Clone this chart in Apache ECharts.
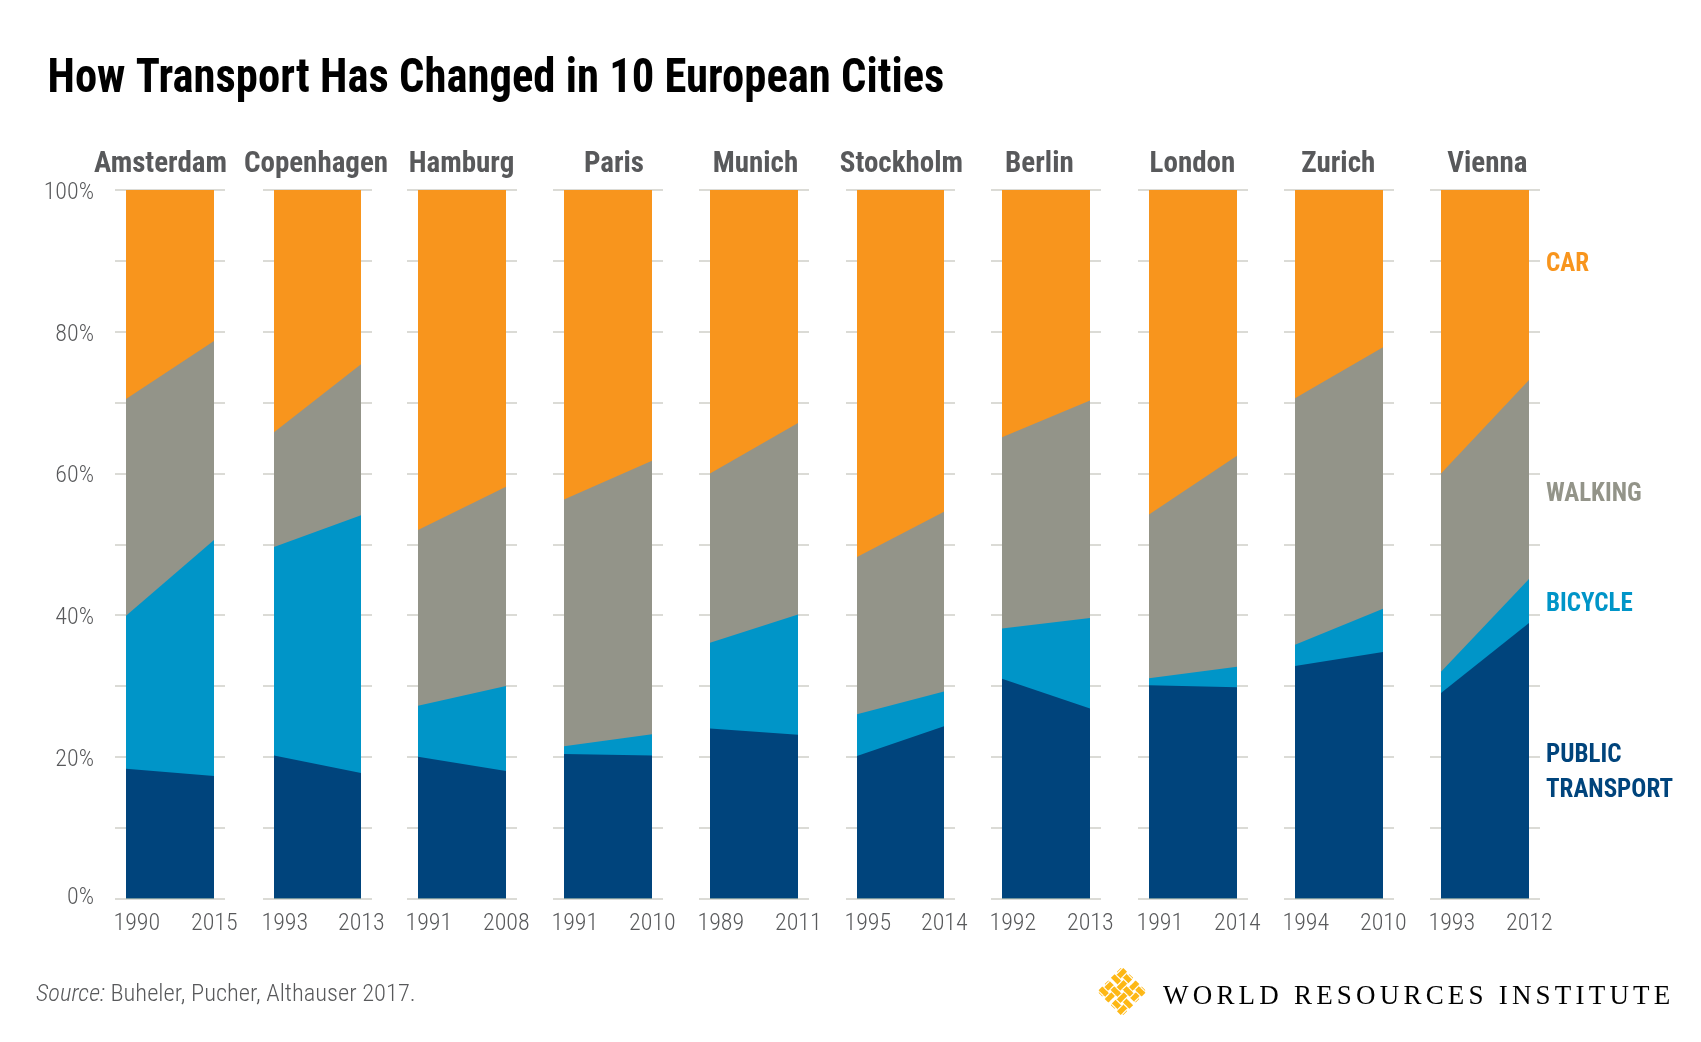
<!DOCTYPE html>
<html>
<head>
<meta charset="utf-8">
<title>How Transport Has Changed in 10 European Cities</title>
<script src="https://cdn.jsdelivr.net/npm/echarts@6/dist/echarts.min.js"></script>
<style>
  html, body { margin: 0; padding: 0; background: #fff; }
  #chart { width: 1701px; height: 1042px; }
  #wri { position: absolute; left: 1163px; top: 980px; font: 27px "Liberation Serif"; letter-spacing: 4.2px; color: #000; white-space: nowrap; }
</style>
</head>
<body>
<div id="chart"></div>
<div id="wri">WORLD RESOURCES INSTITUTE</div>
<script>
var cities = ['Amsterdam', 'Copenhagen', 'Hamburg', 'Paris', 'Munich', 'Stockholm', 'Berlin', 'London', 'Zurich', 'Vienna'];
var years = [[1990, 2015], [1993, 2013], [1991, 2008], [1991, 2010], [1989, 2011], [1995, 2014], [1992, 2013], [1991, 2014], [1994, 2010], [1993, 2012]];
var publicTransport = [[18.3, 17.3], [20.2, 17.7], [20, 18], [20.4, 20.2], [24, 23.1], [20.1, 24.3], [31, 26.8], [30.1, 29.8], [32.8, 34.8], [29, 38.9]];
var bicycle = [[21.6, 33.3], [29.4, 36.4], [7.2, 12], [1.1, 3], [12.1, 17], [5.9, 4.9], [7.1, 12.8], [1, 2.9], [3, 6.1], [3, 6.2]];
var walking = [[30.6, 28.1], [16.2, 21.3], [24.8, 28.1], [34.8, 38.6], [23.9, 27], [22.2, 25.4], [27, 30.7], [23.1, 29.8], [34.8, 36.9], [28, 28.1]];
var car = [[29.5, 21.3], [34.2, 24.6], [48, 41.9], [43.7, 38.2], [40, 32.9], [51.8, 45.4], [34.9, 29.7], [45.8, 37.5], [29.4, 22.2], [40, 26.8]];
var yTicks = [0, 20, 40, 60, 80, 100];

// layout in px, whole numbers so the overpainted bands leave no fringe
var barLeft = [126, 274, 418, 564, 710, 857, 1002, 1149, 1295, 1441];
var barWidth = [88, 87, 88, 88, 88, 87, 88, 88, 88, 88];
var tickPad = 11;
var cityCenter = [155.5, 311, 456.5, 609, 750.5, 896.4, 1034.4, 1187.4, 1333.3, 1482.3];
var plotTop = 190, plotBottom = 898.5;

// bottom of the stack first, so each band can be summed onto the one below
var modes = [
  { name: 'Public transport', values: publicTransport, color: '#00447c' },
  { name: 'Bicycle', values: bicycle, color: '#0095c8' },
  { name: 'Walking', values: walking, color: '#939489' },
  { name: 'Car', values: car, color: '#f8951d' }
];

var narrow = '"Roboto Condensed", sans-serif';
var light = '"Roboto Condensed Light", "Roboto Condensed", sans-serif';
var grey = '#58595b';

var grids = [], xAxes = [], yAxes = [], series = [], titles = [];

cities.forEach(function (city, i) {
  var y0 = years[i][0], y1 = years[i][1];
  var pad = (y1 - y0) * tickPad / barWidth[i];
  grids.push({
    left: barLeft[i] - tickPad,
    width: barWidth[i] + tickPad * 2,
    top: plotTop,
    height: plotBottom - plotTop
  });
  xAxes.push({
    type: 'value',
    gridIndex: i,
    min: y0 - pad,
    max: y1 + pad,
    splitLine: { show: false },
    axisLine: { show: false },
    axisTick: { show: false },
    axisLabel: {
      customValues: [y0, y1],
      margin: 12,
      formatter: function (v) { return v === y0 ? '{a|' + v + '}' : '{b|' + v + '}'; },
      rich: {
        a: { width: 46, align: 'left', padding: [0, 0, 0, 21], fontFamily: light, fontSize: 24, color: grey },
        b: { width: 46, align: 'left', fontFamily: light, fontSize: 24, color: grey }
      }
    }
  });
  yAxes.push({
    type: 'value',
    gridIndex: i,
    min: 0,
    max: 100,
    interval: 10,
    axisLine: { show: false },
    axisTick: { show: false },
    splitLine: { show: true, lineStyle: { color: '#cfcfc9', width: 1.5 } },
    axisLabel: {
      show: i === 0,
      margin: 21,
      formatter: function (v) {
        if (yTicks.indexOf(v) < 0) return '';
        return (v === 0 ? '{z|' : '{n|') + v + '%}';
      },
      rich: {
        n: { padding: [4, 0, 0, 0], fontFamily: light, fontSize: 24, color: grey },
        z: { padding: [0, 0, 4, 0], fontFamily: light, fontSize: 24, color: grey }
      }
    }
  });
  // cumulative tops; painted from the tallest band down
  var running = [0, 0], bands = [];
  modes.forEach(function (m) {
    running = [running[0] + m.values[i][0], running[1] + m.values[i][1]];
    bands.push({ m: m, top: running });
  });
  bands.reverse().forEach(function (b) {
    series.push({
      name: b.m.name,
      type: 'line',
      xAxisIndex: i,
      yAxisIndex: i,
      symbol: 'none',
      silent: true,
      animation: false,
      lineStyle: { width: 0 },
      areaStyle: { color: b.m.color, opacity: 1 },
      data: [[y0, b.top[0]], [y1, b.top[1]]]
    });
  });
  titles.push({
    text: city,
    left: cityCenter[i],
    top: 145,
    textAlign: 'center',
    textStyle: { fontFamily: narrow, fontSize: 29, fontWeight: 'bold', color: grey }
  });
});

var graphic = [{
  type: 'text', x: 47.5, y: 55.5, scaleX: 0.93,
  style: { text: 'How Transport Has Changed in 10 European Cities', fill: '#000', font: 'bold 48px ' + narrow }
}];

// mode labels on the right
var sideLabels = [
  { text: 'CAR', y: 264, color: '#f8951d' },
  { text: 'WALKING', y: 494, color: '#939489' },
  { text: 'BICYCLE', y: 604, color: '#0095c8' },
  { text: 'PUBLIC\nTRANSPORT', y: 773, color: '#00447c' }
];
sideLabels.forEach(function (l) {
  graphic.push({
    type: 'text', left: 1546, top: l.y - (l.text.indexOf('\n') > 0 ? 35 : 17),
    style: { text: l.text, fill: l.color, font: 'bold 25px ' + narrow, lineHeight: 35 }
  });
});
graphic.push({
  type: 'text', left: 36, top: 981.5,
  style: {
    text: '{i|Source:} Buheler, Pucher, Althauser 2017.',
    fill: grey, font: '24.5px ' + light,
    rich: { i: { font: 'italic 24.5px ' + light, fill: grey } }
  }
});

// WRI mark: woven diamond
var gold = '#fdb714', w = 5.2, half = 17.5, lanes = [-13, -4.4, 4.4, 13], weave = [];
function box(x, y, bw, bh, fill) {
  return { type: 'rect', shape: { x: x, y: y, width: bw, height: bh }, style: { fill: fill } };
}
lanes.forEach(function (p, a) {
  var outer = a === 0 || a === 3;
  if (outer) {
    weave.push(box(-half, p - w / 2, half - 2, w, gold), box(2, p - w / 2, half - 2, w, gold));
    weave.push(box(p - w / 2, -half, w, half - 2, gold), box(p - w / 2, 2, w, half - 2, gold));
  } else {
    weave.push(box(-half, p - w / 2, half * 2, w, gold), box(p - w / 2, -half, w, half * 2, gold));
  }
});
lanes.forEach(function (p, a) {
  lanes.forEach(function (q, b) {
    if ((a + b) % 2) {
      weave.push(box(p - w / 2, q - w / 2 - 1.2, w, w + 2.4, '#fff'), box(p - w / 2 - 0.5, q - w / 2, w + 1, w, gold));
    } else {
      weave.push(box(p - w / 2 - 1.2, q - w / 2, w + 2.4, w, '#fff'), box(p - w / 2, q - w / 2 - 0.5, w, w + 1, gold));
    }
  });
});
graphic.push({ type: 'group', x: 1122, y: 991.5, rotation: Math.PI / 4, children: weave });

var chart = echarts.init(document.getElementById('chart'), null, { renderer: 'canvas' });
chart.setOption({
  animation: false,
  backgroundColor: '#fff',
  title: titles,
  grid: grids,
  xAxis: xAxes,
  yAxis: yAxes,
  series: series,
  graphic: graphic
});
</script>
</body>
</html>
